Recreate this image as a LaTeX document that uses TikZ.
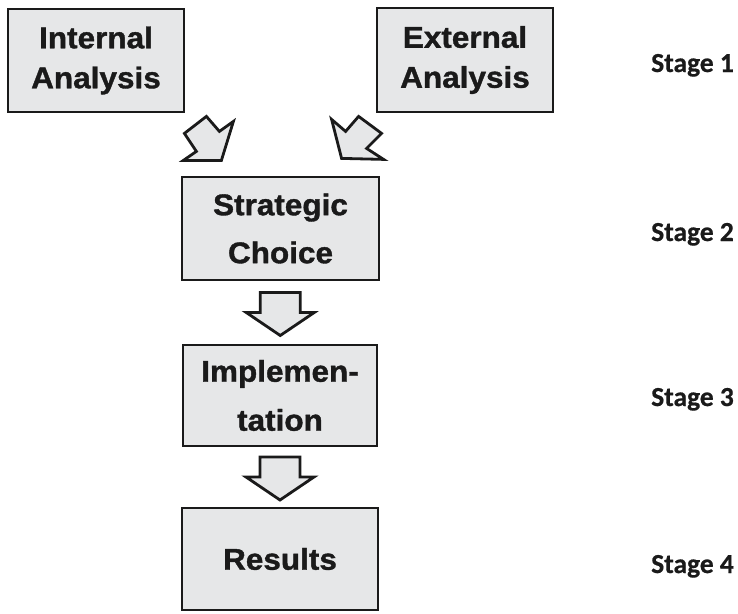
\documentclass[tikz,border=0pt]{standalone}
\usepackage{fontspec}
\setmainfont{Liberation Sans}
\newfontfamily\boxfont[FakeStretch=1.05, FakeBold=1.2]{Liberation Sans}
\newfontfamily\stagefont[FakeBold=0.6]{Carlito}
\usetikzlibrary{calc}

\definecolor{boxgray}{HTML}{E6E7E8}
\definecolor{inkline}{HTML}{1A1A1A}

\tikzset{
  stepbox/.style={draw=inkline, line width=2.8pt, fill=boxgray, rectangle,
    inner sep=0pt, align=center, text=inkline},
  boxtext/.style={font=\boxfont\bfseries\fontsize{30}{#1}\selectfont},
  blockarrow/.style={draw=inkline, line width=2.8pt, fill=boxgray,
    line join=miter},
  stagelabel/.style={anchor=base east, inner sep=0pt, text=inkline,
    font=\stagefont\bfseries\fontsize{27.5}{30}\selectfont}
}

\begin{document}
\begin{tikzpicture}[x=1pt, y=-1pt]
  \useasboundingbox (0,0) rectangle (738,613);

  % boxes of the four stages
  \node[stepbox, boxtext=40, minimum width=176pt, minimum height=103pt]
    (int) at (96,60.5) {Internal\\Analysis};
  \node[stepbox, boxtext=40, minimum width=176pt, minimum height=104pt]
    (ext) at (465,60) {External\\Analysis};
  \node[stepbox, boxtext=48, minimum width=197pt, minimum height=103pt]
    (sc) at (280.5,228.5) {Strategic\\Choice};
  \node[stepbox, boxtext=49, minimum width=194pt, minimum height=101pt]
    (imp) at (280,395.5) {Implemen-\\tation};
  \node[stepbox, boxtext=36, minimum width=196pt, minimum height=102pt]
    (res) at (280,559) {\raisebox{-3pt}{Results}};

  % slanted block arrows from the two analyses
  \coordinate (la) at (int.south east);
  \draw[blockarrow] ([shift={(21,3)}]la) -- ([shift={(-1,20)}]la)
    -- ([shift={(11,38)}]la) -- ([shift={(-2,47)}]la)
    -- ([shift={(36,47)}]la) -- ([shift={(48,8)}]la)
    -- ([shift={(34,18)}]la) -- cycle;

  \coordinate (ra) at (ext.south west);
  \draw[blockarrow] ([shift={(-44,6)}]ra) -- ([shift={(-30,18)}]ra)
    -- ([shift={(-17,3)}]ra) -- ([shift={(6,20)}]ra)
    -- ([shift={(-9,35)}]ra) -- ([shift={(8,46)}]ra)
    -- ([shift={(-34,45)}]ra) -- cycle;

  % downward block arrows between the stacked boxes
  \coordinate (d1) at ($(sc.south)!0.5!(imp.north)$);
  \coordinate (d2) at ($(imp.south)!0.5!(res.north)$);
  \foreach \c in {d1,d2}{
    \draw[blockarrow] ([shift={(-20,-20)}]\c) -- ([shift={(20,-20)}]\c)
      -- ([shift={(20,0)}]\c) -- ([shift={(34,0)}]\c)
      -- ([shift={(0,23)}]\c) -- ([shift={(-34,0)}]\c)
      -- ([shift={(-20,0)}]\c) -- cycle;
  }

  % stage labels
  \node[stagelabel] (s1) at (734,72) {Stage 1};
  \node[stagelabel] (s2) at (734,241) {Stage 2};
  \node[stagelabel] (s3) at (734,406) {Stage 3};
  \node[stagelabel] (s4) at (734,573) {Stage 4};
\end{tikzpicture}
\end{document}
